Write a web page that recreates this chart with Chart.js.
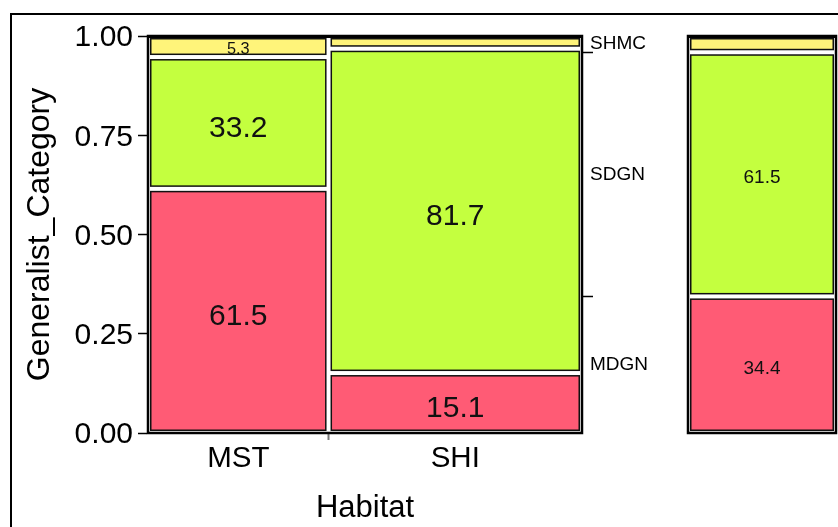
<!DOCTYPE html>
<html>
<head>
<meta charset="utf-8">
<script src="https://cdn.jsdelivr.net/npm/chart.js@4"></script>
<style>
  html, body { margin: 0; padding: 0; background: #fff; }
  #page { position: relative; width: 838px; height: 527px; overflow: hidden; }
  #border { position: absolute; left: 10px; top: 13px; width: 900px; height: 600px;
            border-left: 2px solid #000; border-top: 2px solid #000; }
  #main { position: absolute; left: 0; top: 0; }
  #total { position: absolute; left: 680px; top: 0; }
</style>
</head>
<body>
<div id="page">
  <div id="border"></div>
  <canvas id="main" width="680" height="527"></canvas>
  <canvas id="total" width="158" height="527"></canvas>
</div>
<script>
// Habitat columns and their share of all observations (column widths)
const habitats = ['MST', 'SHI'];
const habitatShare = [0.416, 0.584];

// Generalist category percentages within each habitat (stacked bottom to top)
const categories = ['MDGN', 'SDGN', 'SHMC'];
const mdgnPct = [61.5, 15.1];
const sdgnPct = [33.2, 81.7];
const shmcPct = [5.3, 3.2];

// Percentages over all habitats combined (MDGN, SDGN, SHMC)
const overallPct = [34.4, 61.5, 4.1];

// Axis ticks
const yTickValues = [0, 0.25, 0.5, 0.75, 1];

const categoryColors = ['#FF5B75', '#C4FF3F', '#FFF47A'];
const FONT = 'Liberation Sans, Arial, Helvetica, sans-serif';

// x ticks: a labelled tick at each column centre, an unlabelled mark at each divider
const xTickValues = [];
const xTickLabels = [];
{
  let start = 0;
  habitats.forEach((h, i) => {
    const end = start + habitatShare[i];
    xTickValues.push(start + habitatShare[i] / 2); xTickLabels.push(h);
    if (i < habitats.length - 1) { xTickValues.push(end); xTickLabels.push(''); }
    start = end;
  });
}

// right-hand axis: category names at the middle of each overall band, marks at band edges
const y2TickValues = [];
const y2TickLabels = [];
{
  let start = 0;
  categories.forEach((c, k) => {
    const end = start + overallPct[k] / 100;
    y2TickValues.push((start + end) / 2); y2TickLabels.push(c);
    if (k < categories.length - 1) { y2TickValues.push(end); y2TickLabels.push(''); }
    start = end;
  });
}

// Draws the framed mosaic tiles from the chart's own x / y scales
const mosaicPlugin = {
  id: 'mosaic',
  afterDatasetsDraw(chart, args, opts) {
    const { ctx, chartArea: a, scales: { x, y } } = chart;
    const inset = 2.75;
    ctx.save();
    ctx.lineWidth = 2.5;
    ctx.strokeStyle = '#000';
    ctx.strokeRect(a.left, a.top, a.right - a.left, a.bottom - a.top);
    // slightly heavier top edge of the frame
    ctx.lineWidth = 1;
    ctx.beginPath();
    ctx.moveTo(a.left, a.top + 1.5);
    ctx.lineTo(a.right, a.top + 1.5);
    ctx.stroke();

    let xStart = 0;
    opts.columns.forEach(col => {
      const xEnd = xStart + col.share;
      let yStart = 0;
      col.pct.forEach((p, k) => {
        const yEnd = yStart + p / 100;
        const x0 = x.getPixelForValue(xStart) + inset;
        const x1 = x.getPixelForValue(xEnd) - inset;
        const y0 = y.getPixelForValue(yEnd) + inset;
        const y1 = y.getPixelForValue(yStart) - inset;
        ctx.fillStyle = categoryColors[k];
        ctx.fillRect(x0, y0, x1 - x0, y1 - y0);
        ctx.lineWidth = 1.5;
        ctx.strokeStyle = '#111';
        ctx.strokeRect(x0, y0, x1 - x0, y1 - y0);
        if (p >= 5) {
          const size = Math.min(opts.fontSize, (y1 - y0) * 1.05);
          ctx.font = size + 'px ' + FONT;
          ctx.fillStyle = '#111';
          ctx.textAlign = 'center';
          ctx.textBaseline = 'middle';
          ctx.fillText(p.toFixed(1), (x0 + x1) / 2, (y0 + y1) / 2 + size * 0.2);
        }
        yStart = yEnd;
      });
      xStart = xEnd;
    });
    ctx.restore();
  }
};

const habitatColumns = habitats.map((h, i) => ({
  share: habitatShare[i],
  pct: [mdgnPct[i], sdgnPct[i], shmcPct[i]]
}));

new Chart(document.getElementById('main'), {
  type: 'scatter',
  data: { datasets: [] },
  options: {
    responsive: false,
    animation: false,
    layout: { padding: { top: 36, left: 0, right: 0, bottom: 0 } },
    plugins: {
      legend: { display: false },
      tooltip: { enabled: false },
      mosaic: { columns: habitatColumns, fontSize: 30 }
    },
    scales: {
      x: {
        type: 'linear', min: 0, max: 1, position: 'bottom',
        afterBuildTicks: s => { s.ticks = xTickValues.map(v => ({ value: v })); },
        afterFit: s => { s.height = 94; },
        ticks: {
          autoSkip: false, maxRotation: 0, padding: 1, color: '#000',
          font: { size: 29.5, family: FONT },
          callback: (v, i) => xTickLabels[i]
        },
        grid: {
          drawOnChartArea: false, drawTicks: true, tickLength: 7, tickWidth: 2,
          tickColor: c => xTickLabels[c.index] ? 'rgba(0,0,0,0)' : '#777'
        },
        border: { display: false },
        title: {
          display: true, text: 'Habitat', color: '#000',
          font: { size: 31, family: FONT }, padding: { top: 0, bottom: 0 }
        }
      },
      y: {
        type: 'linear', min: 0, max: 1, position: 'left',
        afterBuildTicks: s => { s.ticks = yTickValues.map(v => ({ value: v })); },
        afterFit: s => { s.width = 148; },
        ticks: {
          padding: 5, color: '#000', font: { size: 30, family: FONT },
          labelOffset: 2,
          callback: v => v.toFixed(2)
        },
        grid: { drawOnChartArea: false, tickLength: 10, tickColor: '#000', tickWidth: 1.5 },
        border: { display: true, color: '#000', width: 1.5 },
        title: {
          display: true, text: 'Generalist_Category', color: '#000',
          font: { size: 32, family: FONT }, padding: { top: 21, bottom: 0 }
        }
      },
      y2: {
        type: 'linear', min: 0, max: 1, position: 'right',
        afterBuildTicks: s => { s.ticks = y2TickValues.map(v => ({ value: v })); },
        afterFit: s => { s.width = 98; },
        ticks: {
          padding: -3, color: '#000', font: { size: 19, family: FONT },
          callback: (v, i) => y2TickLabels[i]
        },
        grid: {
          drawOnChartArea: false, tickLength: 11, tickWidth: 1.5,
          tickColor: c => y2TickLabels[c.index] ? 'rgba(0,0,0,0)' : '#000'
        },
        border: { display: false }
      }
    }
  },
  plugins: [mosaicPlugin]
});

// Combined distribution over all habitats
new Chart(document.getElementById('total'), {
  type: 'scatter',
  data: { datasets: [] },
  options: {
    responsive: false,
    animation: false,
    layout: { padding: { left: 8, right: 2, top: 36, bottom: 94 } },
    plugins: {
      legend: { display: false },
      tooltip: { enabled: false },
      mosaic: { columns: [{ share: 1, pct: overallPct }], fontSize: 19 }
    },
    scales: {
      x: { type: 'linear', min: 0, max: 1, display: false },
      y: { type: 'linear', min: 0, max: 1, display: false }
    }
  },
  plugins: [mosaicPlugin]
});
</script>
</body>
</html>
